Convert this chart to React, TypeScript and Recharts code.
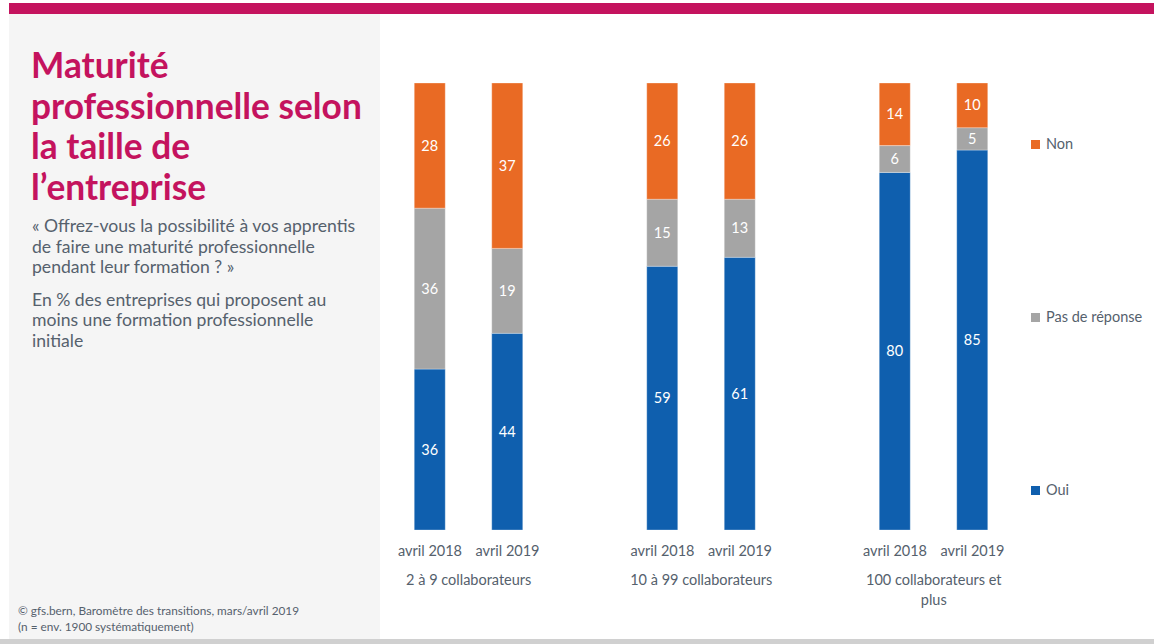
import { BarChart, Bar, XAxis, YAxis, LabelList } from 'recharts';

const periods = ['avril 2018', 'avril 2019', '', 'avril 2018', 'avril 2019', '', 'avril 2018', 'avril 2019'];
const groups = ['2 à 9 collaborateurs', '', '', '10 à 99 collaborateurs', '', '', '100 collaborateurs et plus', ''];
const oui = [36, 44, null, 59, 61, null, 80, 85];
const pasDeReponse = [36, 19, null, 15, 13, null, 6, 5];
const non = [28, 37, null, 26, 26, null, 14, 10];

const data = periods.map((p, i) => ({
  key: `c${i}`,
  period: p,
  group: groups[i],
  oui: oui[i],
  pdr: pasDeReponse[i],
  non: non[i],
}));

const BLUE = '#0f5fae';
const GRAY = '#a5a5a5';
const ORANGE = '#e96a24';
const MAGENTA = '#c4135e';
const TEXT = '#55616d';
const FONT = 'Lato, "Noto Sans", sans-serif';

const legendItems = [
  { label: 'Non', color: ORANGE },
  { label: 'Pas de réponse', color: GRAY },
  { label: 'Oui', color: BLUE },
];

function Tick(props: any) {
  const { x, y, payload, index } = props;
  const row = data[index];
  if (!row) return null;
  const half = 38.75;
  const groupLines =
    row.group === '100 collaborateurs et plus' ? ['100 collaborateurs et', 'plus'] : row.group ? [row.group] : [];
  return (
    <g>
      <text x={x} y={y + 18} textAnchor="middle" fill={TEXT} fontSize={14.5} fontFamily={FONT}>
        {payload.value}
      </text>
      {groupLines.map((l, k) => (
        <text key={k} x={x + half} y={y + 47 + k * 20} textAnchor="middle" fill={TEXT} fontSize={14.5} fontFamily={FONT}>
          {l}
        </text>
      ))}
    </g>
  );
}

export default function App() {
  return (
    <div style={{ position: 'absolute', left: 0, top: 0, width: 1154, height: 644, background: '#fff', overflow: 'hidden' }}>
      <div style={{ position: 'absolute', left: 9, top: 3, width: 1145, height: 11, background: MAGENTA }} />
      <div style={{ position: 'absolute', left: 9, top: 14, width: 371, height: 625, background: '#f5f5f5' }} />
      <div style={{ position: 'absolute', left: 0, top: 639, width: 1154, height: 5, background: '#d0d0d0' }} />

      <div
        style={{
          position: 'absolute',
          left: 31,
          top: 45,
          color: MAGENTA,
          fontFamily: FONT,
          fontWeight: 700,
          fontSize: 35.3,
          lineHeight: '40.5px',
          width: 348,
          whiteSpace: 'nowrap',
        }}
      >
        Maturité
        <br />
        professionnelle selon
        <br />
        la taille de
        <br />
        l’entreprise
      </div>
      <div
        style={{
          position: 'absolute',
          left: 32,
          top: 216,
          color: TEXT,
          fontFamily: FONT,
          fontSize: 17.6,
          lineHeight: '20.5px',
          width: 345,
          whiteSpace: 'nowrap',
        }}
      >
        « Offrez-vous la possibilité à vos apprentis
        <br />
        de faire une maturité professionnelle
        <br />
        pendant leur formation ? »
        <div style={{ height: 12 }} />
        En % des entreprises qui proposent au
        <br />
        moins une formation professionnelle
        <br />
        initiale
      </div>
      <div
        style={{
          position: 'absolute',
          left: 18,
          top: 603,
          color: TEXT,
          fontFamily: FONT,
          fontSize: 11.8,
          lineHeight: '16px',
          whiteSpace: 'nowrap',
        }}
      >
        © gfs.bern, Baromètre des transitions, mars/avril 2019
        <br />
        (n = env. 1900 systématiquement)
      </div>

      <div
        style={{
          position: 'absolute',
          left: 1031,
          top: 134,
          height: 366,
          display: 'flex',
          flexDirection: 'column',
          justifyContent: 'space-between',
        }}
      >
        {legendItems.map((it) => (
          <div key={it.label} style={{ display: 'flex', alignItems: 'center', fontFamily: FONT, fontSize: 14.5, color: TEXT, lineHeight: '20px' }}>
            <span style={{ width: 9, height: 9, background: it.color, display: 'inline-block', marginRight: 6 }} />
            {it.label}
          </div>
        ))}
      </div>

      <div style={{ position: 'absolute', left: 380, top: 0 }}>
        <BarChart
          width={774}
          height={644}
          data={data}
          margin={{ top: 83, right: 142.75, left: 11.25, bottom: 34 }}
          barSize={31}
        >
          <XAxis dataKey="period" axisLine={false} tickLine={false} interval={0} height={80} tick={<Tick />} />
          <YAxis hide domain={[0, 100]} />
          <Bar dataKey="oui" stackId="a" fill={BLUE} stroke="#ffffff" strokeOpacity={0.5} strokeWidth={0.6} isAnimationActive={false}>
            <LabelList dataKey="oui" position="center" fill="#fff" fontSize={14.5} fontFamily={FONT} />
          </Bar>
          <Bar dataKey="pdr" stackId="a" fill={GRAY} stroke="#ffffff" strokeOpacity={0.5} strokeWidth={0.6} isAnimationActive={false}>
            <LabelList dataKey="pdr" position="center" fill="#fff" fontSize={14.5} fontFamily={FONT} />
          </Bar>
          <Bar dataKey="non" stackId="a" fill={ORANGE} stroke="#ffffff" strokeOpacity={0.5} strokeWidth={0.6} isAnimationActive={false}>
            <LabelList dataKey="non" position="center" fill="#fff" fontSize={14.5} fontFamily={FONT} />
          </Bar>
        </BarChart>
      </div>
    </div>
  );
}
